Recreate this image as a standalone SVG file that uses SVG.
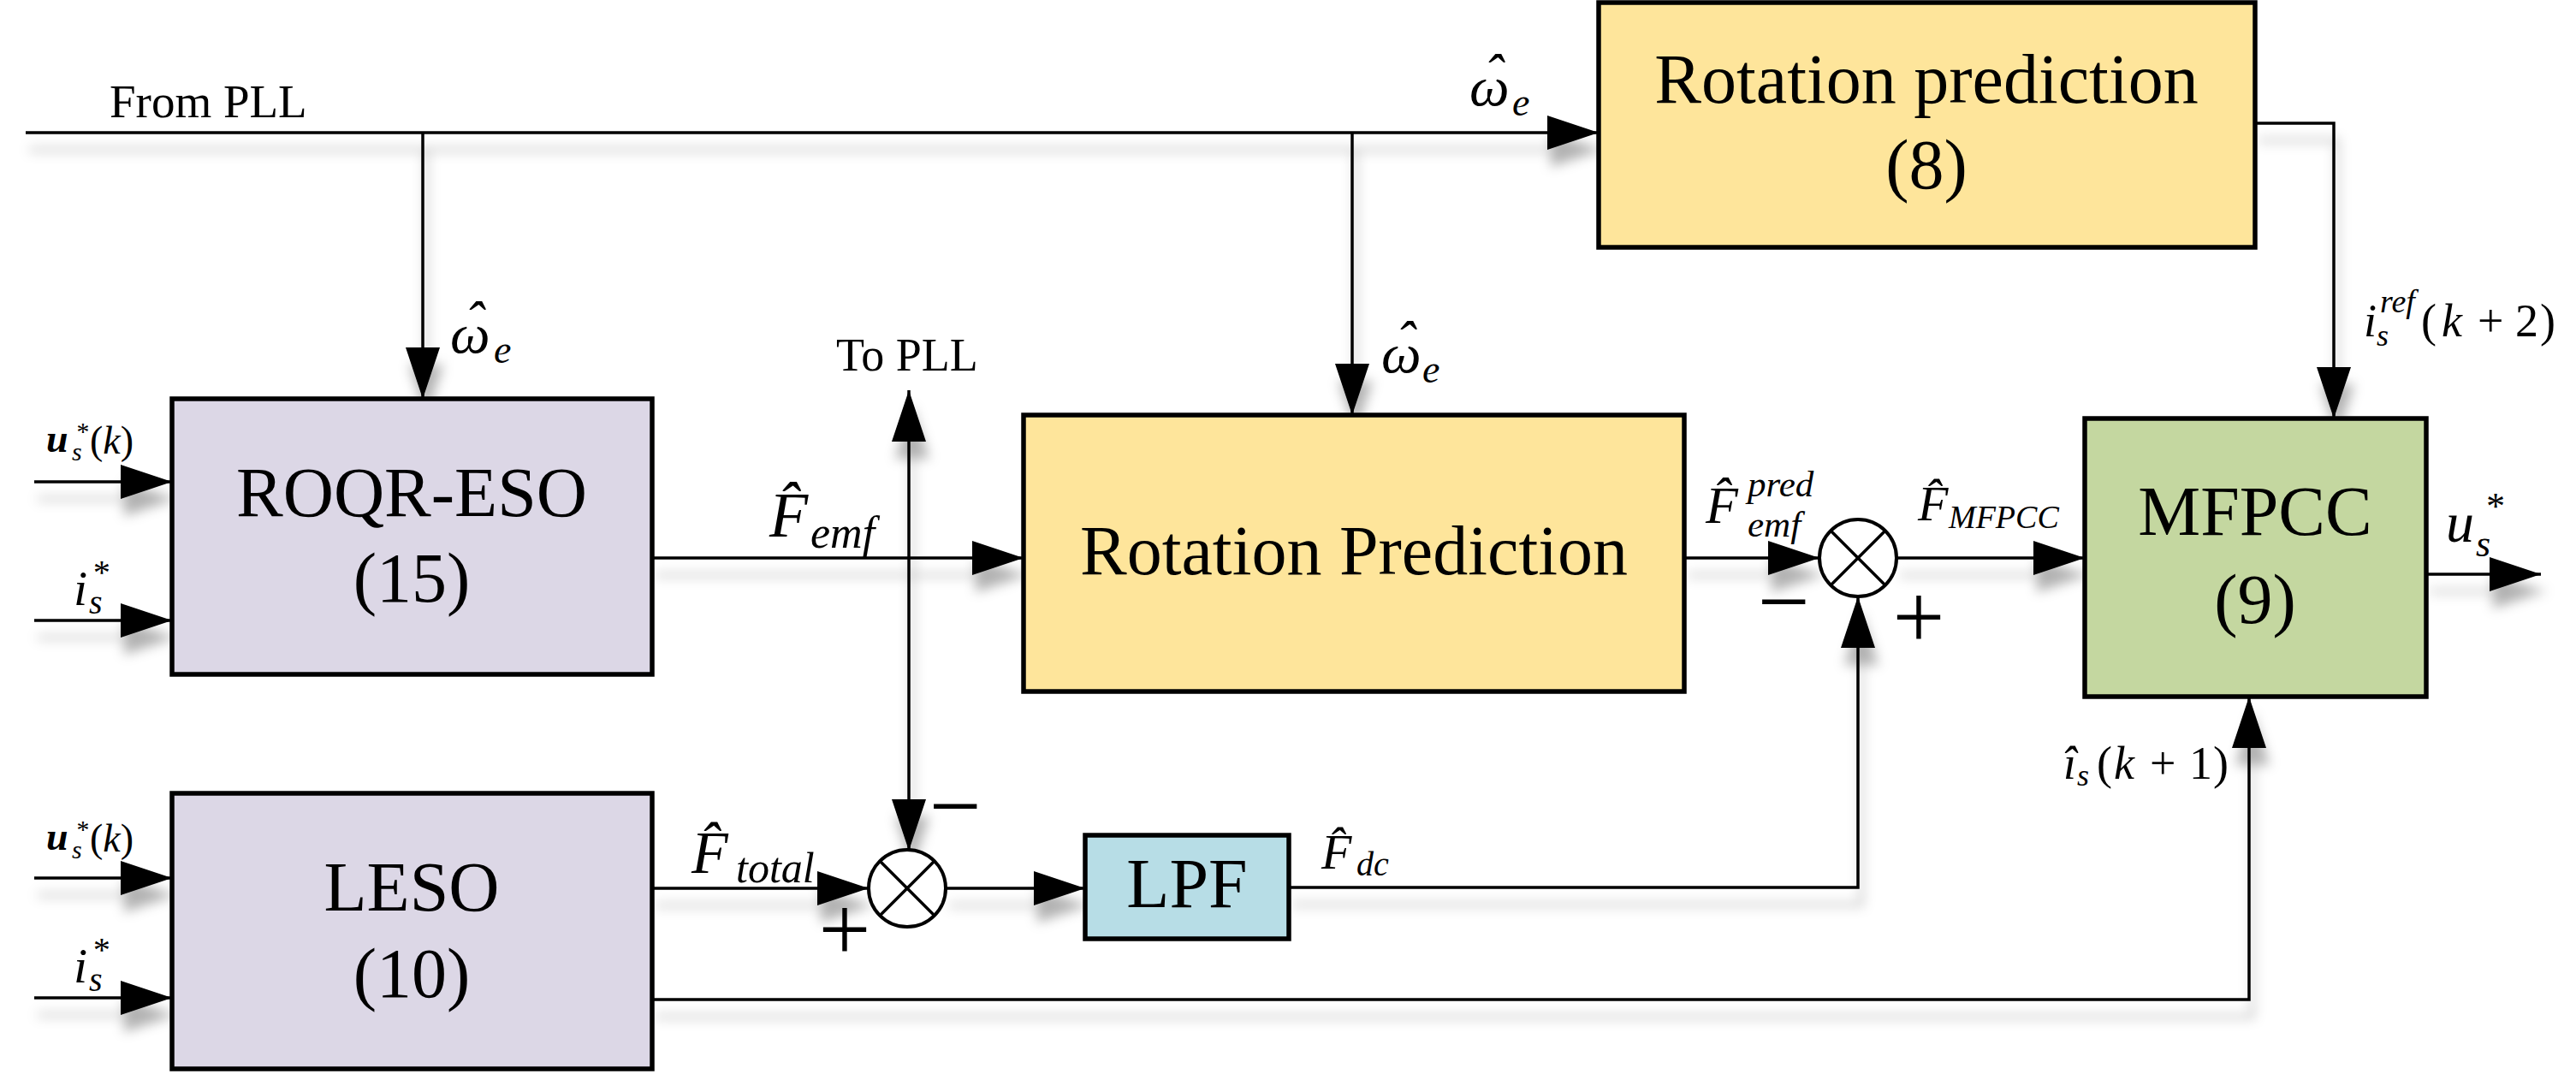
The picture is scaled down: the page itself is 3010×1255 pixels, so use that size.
<svg xmlns="http://www.w3.org/2000/svg" width="3010" height="1255" viewBox="0 0 3010 1255">
<style>
.box{stroke:#000;stroke-width:5.5;stroke-linejoin:miter}
.lav{fill:#dcd7e6}.yel{fill:#fee59b}.grn{fill:#c4d7a0}.blu{fill:#b7dde6}
.ln{fill:none;stroke:#000;stroke-width:3.5;marker-end:url(#ah)}
.sum{fill:#fff;stroke:#000;stroke-width:4}
.x{stroke:#000;stroke-width:3.5}
text{font-family:"Liberation Serif","Times New Roman",serif;fill:#000}
.bt{font-size:82px;text-anchor:middle}
.it{font-style:italic}
.bi{font-style:italic;font-weight:bold}
.sg{font-size:108px;text-anchor:middle}
</style>
<defs>
<marker id="ah" viewBox="0 0 60 40" refX="60" refY="20" markerWidth="60" markerHeight="40" markerUnits="userSpaceOnUse" orient="auto">
<path d="M0,0 L60,20 L0,40 z" fill="#000"/>
</marker>
<filter id="sh" x="-5%" y="-10%" width="110%" height="130%">
<feDropShadow dx="4" dy="20" stdDeviation="7" flood-color="#000" flood-opacity="0.3"/>
</filter>
</defs>
<rect width="3010" height="1255" fill="#fff"/>

<g id="connectors" filter="url(#sh)">
<path class="ln" d="M30,155 H1868"/>
<path class="ln" d="M494,155 V466"/>
<path class="ln" d="M1580,155 V485"/>
<path class="ln" d="M2635,144 H2727 V489"/>
<path class="ln" d="M40,563 H201"/>
<path class="ln" d="M40,725 H201"/>
<path class="ln" d="M762,652 H1196"/>
<path class="ln" d="M1062,652 V456"/>
<path class="ln" d="M1062,652 V994"/>
<path class="ln" d="M1968,652 H2126"/>
<path class="ln" d="M2216,652 H2436"/>
<path class="ln" d="M2835,671 H2969"/>
<path class="ln" d="M40,1026 H201"/>
<path class="ln" d="M40,1166 H201"/>
<path class="ln" d="M762,1038 H1015"/>
<path class="ln" d="M1105,1038 H1268"/>
<path class="ln" d="M1506,1037 H2171 V697"/>
<path class="ln" d="M762,1168 H2628 V814"/>
</g>

<g id="roqr-eso">
<rect class="box lav" x="201" y="466" width="561" height="322"/>
<text class="bt" x="481" y="603">ROQR-ESO</text>
<text class="bt" x="481" y="703">(15)</text>
</g>

<g id="leso">
<rect class="box lav" x="201" y="927" width="561" height="322"/>
<text class="bt" x="481" y="1064">LESO</text>
<text class="bt" x="481" y="1165">(10)</text>
</g>

<g id="rotation-prediction-8">
<rect class="box yel" x="1868" y="3" width="767" height="286"/>
<text class="bt" x="2251" y="120">Rotation prediction</text>
<text class="bt" x="2251" y="220">(8)</text>
</g>

<g id="rotation-prediction">
<rect class="box yel" x="1196" y="485" width="772" height="323"/>
<text class="bt" x="1582" y="671">Rotation Prediction</text>
</g>

<g id="mfpcc">
<rect class="box grn" x="2436" y="489" width="399" height="325"/>
<text class="bt" x="2635" y="625">MFPCC</text>
<text class="bt" x="2635" y="728">(9)</text>
</g>

<g id="lpf">
<rect class="box blu" x="1268" y="976" width="238" height="121"/>
<text class="bt" x="1387" y="1060">LPF</text>
</g>

<g id="sum1">
<circle class="sum" cx="2171" cy="652" r="45"/>
<line class="x" x1="2139" y1="620" x2="2203" y2="684"/>
<line class="x" x1="2203" y1="620" x2="2139" y2="684"/>
<text class="sg" x="2084" y="739">−</text>
<text class="sg" x="2242" y="757">+</text>
</g>

<g id="sum2">
<circle class="sum" cx="1060" cy="1038" r="45"/>
<line class="x" x1="1028" y1="1006" x2="1092" y2="1070"/>
<line class="x" x1="1092" y1="1006" x2="1028" y2="1070"/>
<text class="sg" x="1116" y="978">−</text>
<text class="sg" x="987" y="1122">+</text>
</g>

<g id="labels">
<text x="128" y="137" font-size="55">From PLL</text>
<text x="977" y="433" font-size="54">To PLL</text>

<text class="it"><tspan font-size="66" x="543 526" y="398 412">ˆω</tspan><tspan x="577" y="424" font-size="46">e</tspan></text>

<text class="it"><tspan font-size="66" x="1734 1717" y="109 123">ˆω</tspan><tspan x="1767" y="135" font-size="46">e</tspan></text>

<text class="it"><tspan font-size="66" x="1631 1614" y="421 435">ˆω</tspan><tspan x="1662" y="447" font-size="46">e</tspan></text>

<text class="it"><tspan x="899" y="627" font-size="74">F̂</tspan><tspan x="947" y="640" font-size="52">emf</tspan></text>

<text class="it"><tspan x="1993" y="611" font-size="62">F̂</tspan><tspan x="2042" y="580" font-size="43">pred</tspan><tspan x="2042" y="627" font-size="43">emf</tspan></text>

<text class="it"><tspan x="2241" y="608" font-size="58">F̂</tspan><tspan x="2277" y="617" font-size="38">MFPCC</tspan></text>

<text class="it"><tspan x="808" y="1020" font-size="70">F̂</tspan><tspan x="860" y="1031" font-size="50">total</tspan></text>

<text class="it"><tspan x="1544" y="1015" font-size="58">F̂</tspan><tspan x="1585" y="1023" font-size="40">dc</tspan></text>

<text font-size="54"><tspan x="2762" y="393" class="it">i</tspan><tspan x="2777" y="404" font-size="36" class="it">s</tspan><tspan x="2781" y="365" font-size="38" class="it">ref</tspan><tspan x="2829" y="393">(</tspan><tspan x="2853" y="393" class="it">k</tspan><tspan x="2895" y="393">+</tspan><tspan x="2939" y="393">2</tspan><tspan x="2968" y="393">)</tspan></text>

<text font-size="54"><tspan x="2411" y="910" class="it">î</tspan><tspan x="2427" y="918" font-size="36" class="it">s</tspan><tspan x="2450" y="910">(</tspan><tspan x="2470" y="910" class="it">k</tspan><tspan x="2512" y="910">+</tspan><tspan x="2558" y="910">1</tspan><tspan x="2586" y="910">)</tspan></text>

<text font-size="46"><tspan x="54" y="528" class="bi">u</tspan><tspan font-size="30" class="it" x="84 88" y="538 514">s*</tspan><tspan x="105" y="530">(</tspan><tspan class="it">k</tspan><tspan>)</tspan></text>

<text font-size="46"><tspan x="54" y="993" class="bi">u</tspan><tspan font-size="30" class="it" x="84 88" y="1003 979">s*</tspan><tspan x="105" y="995">(</tspan><tspan class="it">k</tspan><tspan>)</tspan></text>

<text font-size="58"><tspan x="86" y="707" class="it">i</tspan><tspan font-size="40" class="it" x="104 107" y="717 682">s*</tspan></text>

<text font-size="58"><tspan x="86" y="1148" class="it">i</tspan><tspan font-size="40" class="it" x="104 107" y="1158 1123">s*</tspan></text>

<text font-size="66"><tspan x="2858" y="633" class="it">u</tspan><tspan font-size="44" class="it" x="2893 2903" y="650 606">s*</tspan></text>
</g>
</svg>
